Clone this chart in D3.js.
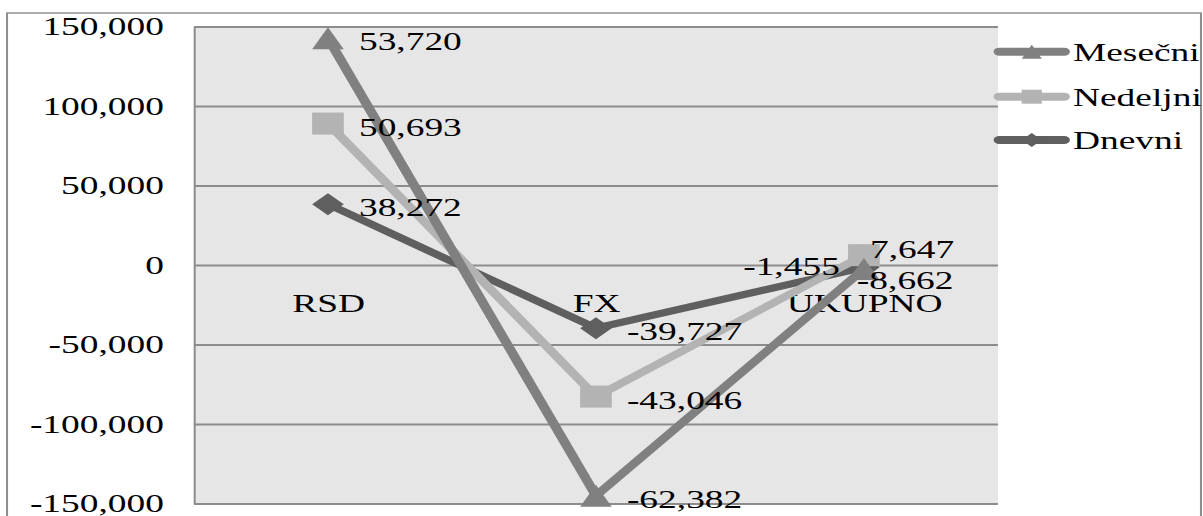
<!DOCTYPE html>
<html>
<head>
<meta charset="utf-8">
<script src="https://cdn.jsdelivr.net/npm/d3@7"></script>
<style>
  html, body { margin: 0; padding: 0; background: #fff; overflow: hidden; }
  text { font-family: "Liberation Serif", "Times New Roman", serif; fill: #000; }
</style>
</head>
<body>
<svg id="chart" width="1203" height="516"></svg>
<script>
// ---- data ----
const categories = ["RSD", "FX", "UKUPNO"];
const dnevni   = [38272, -39727, -1455];
const nedeljni = [50693, -43046, 7647];
const mesecni  = [53720, -62382, -8662];
const seriesKeys = ["Dnevni", "Nedeljni", "Mesečni"];   // stacking order, bottom first
const legendKeys = ["Mesečni", "Nedeljni", "Dnevni"];
const yTicks = [-150000, -100000, -50000, 0, 50000, 100000, 150000];

// ---- layout (drawn in a horizontally stretched frame) ----
const SX = 1.44;
const W = 1203 / SX, H = 516;
const plot = { left: 134.7, right: 693, top: 26.5, bottom: 503.5 };

const colors  = { "Mesečni": "#808080", "Nedeljni": "#b3b3b3", "Dnevni": "#5f5f5f" };
const shapes  = { "Mesečni": "triangle", "Nedeljni": "square", "Dnevni": "diamond" };

const fmt = d3.formatLocale({ decimal: ".", thousands: ",", grouping: [3], currency: ["", ""], minus: "-" }).format(",");

const svg = d3.select("#chart")
  .attr("viewBox", `0 0 ${W} ${H}`)
  .attr("preserveAspectRatio", "none");

// table for the stack
const table = categories.map((c, i) => ({
  cat: c, "Dnevni": dnevni[i], "Nedeljni": nedeljni[i], "Mesečni": mesecni[i]
}));
const stacked = d3.stack().keys(seriesKeys).order(d3.stackOrderNone).offset(d3.stackOffsetNone)(table);

const x = d3.scalePoint().domain(categories).range([plot.left, plot.right]).padding(0.5);
const y = d3.scaleLinear().domain([-150000, 150000]).range([plot.bottom, plot.top]);

function markerPath(kind, w, h) {
  const a = w / 2, b = h / 2;
  if (kind === "triangle") return `M0,${-b}L${a},${b}L${-a},${b}Z`;
  if (kind === "square") return `M${-a},${-b}H${a}V${b}H${-a}Z`;
  return `M0,${-b}L${a},0L0,${b}L${-a},0Z`;
}

// outer chart border
svg.append("rect")
  .attr("x", 4.9).attr("y", 13)
  .attr("width", 834 - 4.9).attr("height", 520)
  .attr("fill", "#fff").attr("stroke", "#8c8c8c").attr("stroke-width", 1.4);

// plot background
svg.append("rect")
  .attr("x", plot.left).attr("y", plot.top)
  .attr("width", plot.right - plot.left).attr("height", plot.bottom - plot.top)
  .attr("fill", "#e6e6e6");

// gridlines
const grid = svg.append("g").attr("transform", `translate(${plot.left},0)`)
  .call(d3.axisLeft(y).tickValues(yTicks).tickSize(-(plot.right - plot.left)).tickFormat(""));
grid.select(".domain").remove();
grid.selectAll("line").attr("stroke", "#8c8c8c").attr("stroke-width", 2);

// value axis with labels
const yAxis = svg.append("g").attr("transform", `translate(${plot.left},0)`)
  .call(d3.axisLeft(y).tickValues(yTicks).tickSize(0).tickPadding(20.8).tickFormat(fmt));
yAxis.select(".domain").attr("stroke", "#8c8c8c").attr("stroke-width", 1.4);
yAxis.selectAll("text")
  .attr("font-size", 26).attr("font-family", "Liberation Serif").attr("fill", "#000");

// category labels beside the zero line
const xAxis = svg.append("g").attr("transform", `translate(0,${y(0)})`)
  .call(d3.axisBottom(x).tickSize(0).tickPadding(29));
xAxis.select(".domain").remove();
xAxis.selectAll("text")
  .attr("font-size", 26).attr("font-family", "Liberation Serif").attr("fill", "#000");

// series lines and markers
const line = d3.line().x(d => x(d.data.cat)).y(d => y(d[1]));
const seriesG = svg.append("g");
stacked.forEach(s => {
  const key = s.key;
  seriesG.append("path")
    .attr("d", line(s))
    .attr("fill", "none")
    .attr("stroke", colors[key])
    .attr("stroke-width", 7)
    .attr("stroke-linejoin", "round");
  seriesG.selectAll(null).data(s).enter().append("path")
    .attr("transform", d => `translate(${x(d.data.cat)},${y(d[1])})`)
    .attr("d", markerPath(shapes[key], 22, 22))
    .attr("fill", colors[key]);
});

// data labels: each states the series' own value
const nudge = {
  "Nedeljni|UKUPNO": { dx: 4.2, dy: -6.6, anchor: "start" },
  "Dnevni|UKUPNO":   { dx: -16.7, dy: -1.3, anchor: "end" },
  "Mesečni|UKUPNO":  { dx: -4.9, dy: 11, anchor: "start" }
};
const labelsG = svg.append("g");
stacked.forEach(s => {
  s.forEach(d => {
    const n = nudge[s.key + "|" + d.data.cat] || { dx: 21.5, dy: 3, anchor: "start" };
    labelsG.append("text")
      .attr("x", x(d.data.cat) + n.dx)
      .attr("y", y(d[1]) + n.dy)
      .attr("dy", "0.35em")
      .attr("text-anchor", n.anchor)
      .attr("font-size", 26)
      .text(fmt(d.data[s.key]));
  });
});

// legend
const legend = svg.append("g");
legendKeys.forEach((key, i) => {
  const ly = [51.7, 96.7, 140][i];
  const g = legend.append("g").attr("transform", `translate(0,${ly})`);
  g.append("line")
    .attr("x1", 694).attr("x2", 739)
    .attr("stroke", colors[key]).attr("stroke-width", 8).attr("stroke-linecap", "round");
  g.append("path")
    .attr("transform", "translate(716.5,0)")
    .attr("d", markerPath(shapes[key], 14, 14))
    .attr("fill", colors[key]);
  g.append("text")
    .attr("x", 745.1).attr("dy", "0.35em")
    .attr("font-size", 26)
    .text(key);
});
</script>
</body>
</html>
